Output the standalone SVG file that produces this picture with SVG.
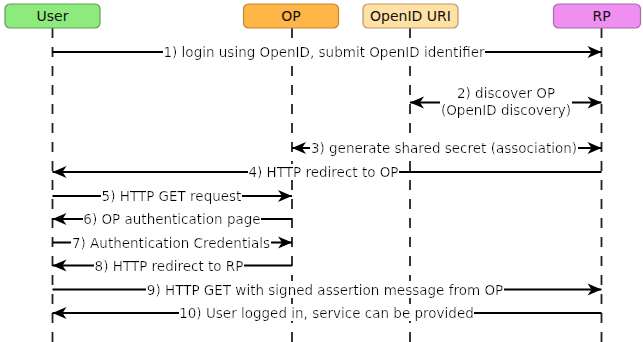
<svg xmlns="http://www.w3.org/2000/svg" width="643" height="342" viewBox="0 0 643 342">
<defs>
<style>
.hdr{stroke-width:1.2}
.ht{font-family:"DejaVu Sans","Liberation Sans",sans-serif;font-size:14px;fill:#111;text-anchor:middle}
.life{stroke:#222;stroke-width:1.8;stroke-dasharray:10 9;fill:none}
.msg{stroke:#000;stroke-width:2;fill:none}
.lbl{font-family:"DejaVu Sans","Liberation Sans",sans-serif;font-size:13.5px;fill:#000;text-anchor:middle}
.bgt{filter:url(#bg)}
.a{marker-end:url(#ah)}
.aa{marker-end:url(#ah);marker-start:url(#ah)}
</style>
<filter id="bg" x="0" y="0" width="1" height="1">
<feFlood flood-color="#ffffff"/>
<feComposite in="SourceGraphic" operator="over"/>
</filter>
<marker id="ah" viewBox="-15 -7 16 14" refX="0" refY="0" markerWidth="16" markerHeight="14" markerUnits="userSpaceOnUse" orient="auto-start-reverse">
<path d="M0,0 L-14,-6 L-10,0 L-14,6 Z" fill="#000"/>
</marker>
</defs>
<rect width="643" height="342" fill="#fff"/>
<g id="lifelines">
<line class="life" x1="52.5" y1="28" x2="52.5" y2="342"/>
<line class="life" x1="292" y1="28" x2="292" y2="342"/>
<line class="life" x1="410" y1="28" x2="410" y2="342"/>
<line class="life" x1="601.5" y1="28" x2="601.5" y2="342"/>
</g>
<g id="node-user">
<rect class="hdr" x="5" y="4" width="95" height="24" rx="5" fill="#8fea7e" stroke="#5e9e52"/>
<text class="ht" x="52.5" y="21">User</text>
</g>
<g id="node-op">
<rect class="hdr" x="243.5" y="4" width="95" height="24" rx="5" fill="#ffb547" stroke="#b98a2f"/>
<text class="ht" x="291" y="21">OP</text>
</g>
<g id="node-openid-uri">
<rect class="hdr" x="363" y="4" width="95" height="24" rx="5" fill="#ffe1a6" stroke="#b79a5e"/>
<text class="ht" x="410.5" y="21">OpenID URI</text>
</g>
<g id="node-rp">
<rect class="hdr" x="553.5" y="4" width="87" height="24" rx="5" fill="#ef8ff2" stroke="#a86aa8"/>
<text class="ht" x="601.5" y="21">RP</text>
</g>
<g id="connectors">
<line class="msg a" x1="52.5" y1="52" x2="601.5" y2="52"/>
<text class="lbl bgt" x="324" y="57">1) login using OpenID, submit OpenID identifier</text>

<line class="msg aa" x1="410" y1="102.5" x2="601.5" y2="102.5"/>
<text class="lbl bgt" x="506" y="97.5"><tspan x="506">2) discover OP</tspan><tspan x="506" dy="17">(OpenID discovery)</tspan></text>

<line class="msg aa" x1="292" y1="148" x2="601.5" y2="148"/>
<text class="lbl bgt" x="444" y="153">3) generate shared secret (association)</text>

<line class="msg a" x1="601.5" y1="172" x2="52.5" y2="172"/>
<text class="lbl bgt" x="323.5" y="177">4) HTTP redirect to OP</text>

<line class="msg a" x1="52.5" y1="196" x2="292" y2="196"/>
<text class="lbl bgt" x="171.5" y="201">5) HTTP GET request</text>

<line class="msg a" x1="292" y1="219" x2="52.5" y2="219"/>
<text class="lbl bgt" x="172" y="224">6) OP authentication page</text>

<line class="msg a" x1="52.5" y1="242.5" x2="292" y2="242.5"/>
<text class="lbl bgt" x="171" y="247.5">7) Authentication Credentials</text>

<line class="msg a" x1="292" y1="265.5" x2="52.5" y2="265.5"/>
<text class="lbl bgt" x="169" y="270.5">8) HTTP redirect to RP</text>

<line class="msg a" x1="52.5" y1="289.5" x2="601.5" y2="289.5"/>
<text class="lbl bgt" x="325" y="294.5">9) HTTP GET with signed assertion message from OP</text>

<line class="msg a" x1="601.5" y1="313" x2="52.5" y2="313"/>
<text class="lbl bgt" x="326.5" y="318">10) User logged in, service can be provided</text>
</g>
</svg>
